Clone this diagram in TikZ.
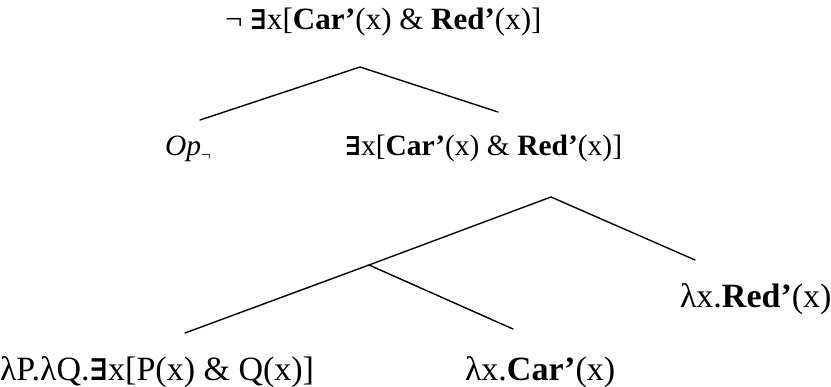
\documentclass[tikz,border=0pt]{standalone}
\usepackage{fontspec}
\setmainfont{Liberation Serif}
\newfontfamily\exfont{DejaVu Serif}
\newcommand{\ex}{{\exfont\bfseries\fontsize{0.88em}{1em}\selectfont ∃}}
\begin{document}
\begin{tikzpicture}[x=1pt,y=-1pt,
  lbl/.style={anchor=base west,inner sep=0pt,outer sep=0pt},
  fa/.style={font=\fontsize{31}{31}\selectfont},
  fb/.style={font=\fontsize{29.5}{30}\selectfont},
  fc/.style={font=\fontsize{34}{34}\selectfont},
  branch/.style={line width=1.4pt,line cap=round,line join=miter}]
\useasboundingbox (0,0) rectangle (831,387);
% texts
\node[lbl,fa] (root) at (225,30) {¬ \ex x[\textbf{Car’}(x) \& \textbf{Red’}(x)]};
\node[lbl,fb] (op) at (165,156) {\textit{Op}\raisebox{-0.35ex}{\fontsize{17}{17}\selectfont ¬}};
\node[lbl,fb] (ex) at (345,156) {\ex x[\textbf{Car’}(x) \& \textbf{Red’}(x)]};
\node[lbl,fc] (det) at (0,381) {λP.λQ.\ex x[P(x) \& Q(x)]};
\node[lbl,fc] (car) at (465,381) {λx.\textbf{Car’}(x)};
\node[lbl,fc] (red) at (680,308) {λx.\textbf{Red’}(x)};
% tree points
\coordinate (a1) at (360,67);
\coordinate (a1l) at (200,120);
\coordinate (a1r) at (498,112);
\coordinate (a2) at (551,197);
\coordinate (a2r) at (695,260);
\coordinate (a3) at (369,265);
\coordinate (a3l) at (185,333);
\coordinate (a3r) at (513,329);
\draw[branch] (a1l) -- (a1) -- (a1r);
\draw[branch] (a3l) -- (a3) -- (a2) -- (a2r);
\draw[branch] (a3) -- (a3r);
\end{tikzpicture}
\end{document}
